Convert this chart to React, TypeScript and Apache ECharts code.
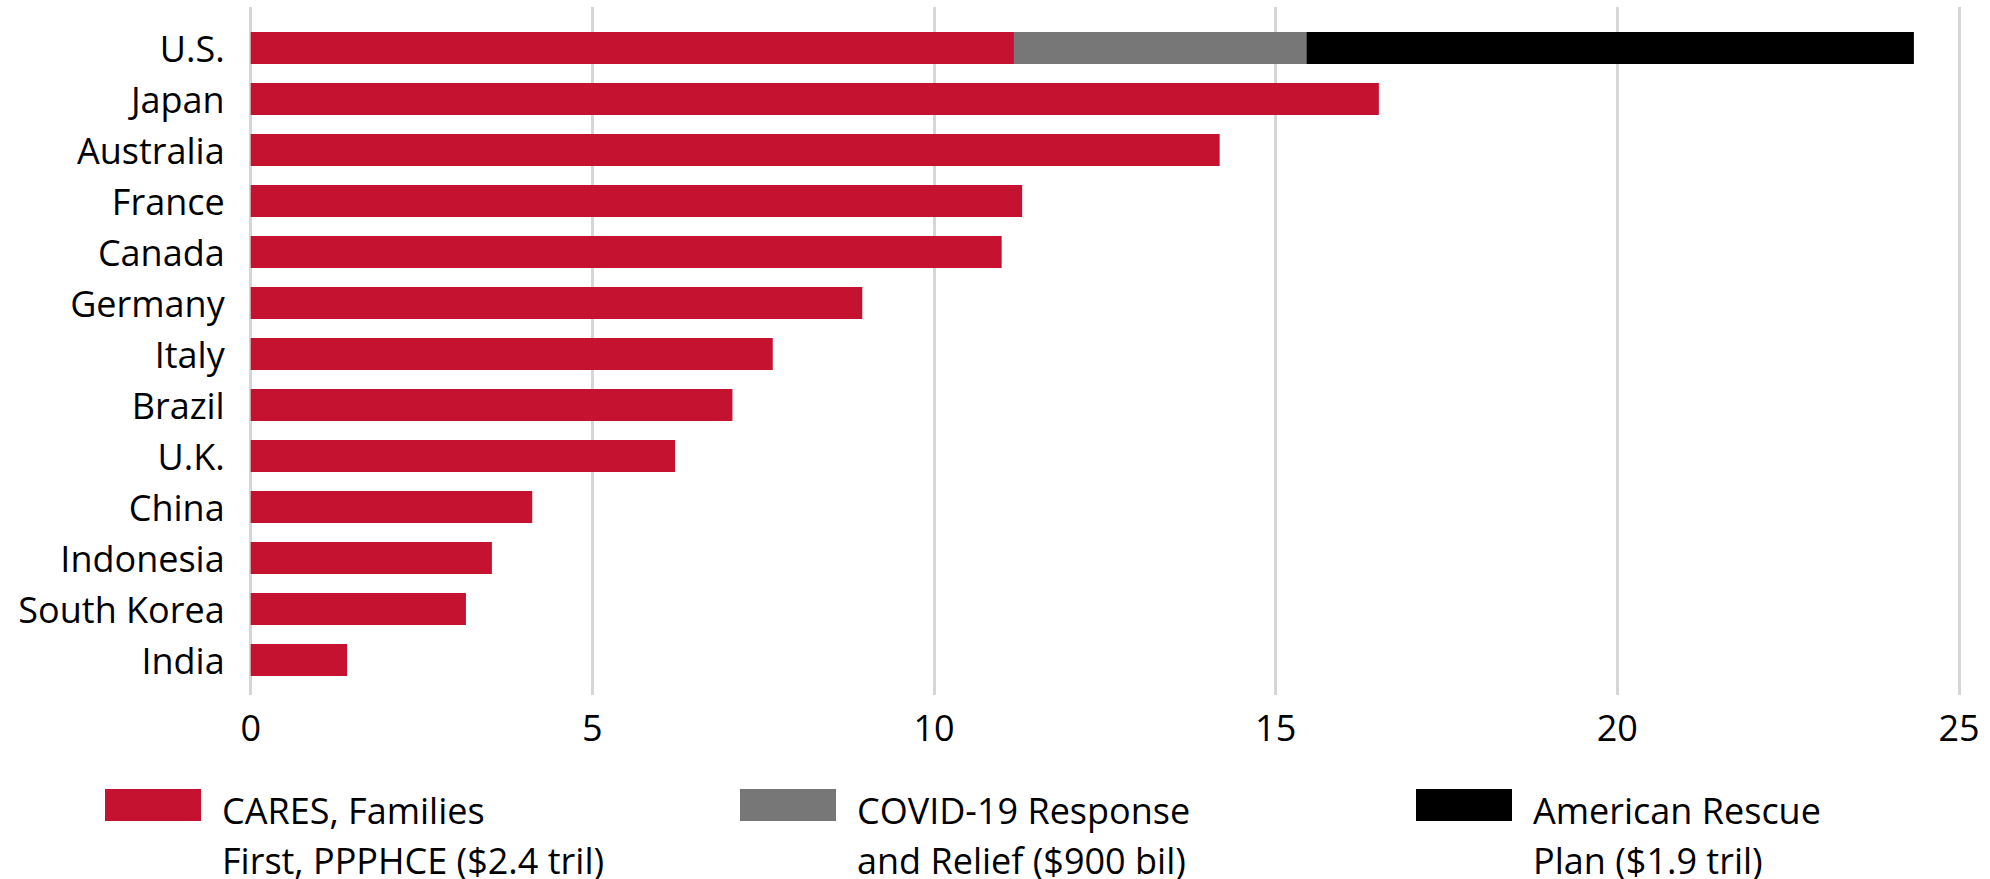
import React, { useEffect, useRef } from "react";
import * as echarts from "echarts";

const categories = [
  "U.S.", "Japan", "Australia", "France", "Canada", "Germany", "Italy",
  "Brazil", "U.K.", "China", "Indonesia", "South Korea", "India",
];
const caresValues = [11.17, 16.51, 14.18, 11.29, 10.99, 8.95, 7.64, 7.05, 6.21, 4.12, 3.53, 3.15, 1.41];
const covidValues = [4.28, null, null, null, null, null, null, null, null, null, null, null, null];
const arpValues = [8.89, null, null, null, null, null, null, null, null, null, null, null, null];
const seriesNames = [
  "CARES, Families First, PPPHCE ($2.4 tril)",
  "COVID-19 Response and Relief ($900 bil)",
  "American Rescue Plan ($1.9 tril)",
];
const legendLines = [
  ["CARES, Families", "First, PPPHCE ($2.4 tril)"],
  ["COVID-19 Response", "and Relief ($900 bil)"],
  ["American Rescue", "Plan ($1.9 tril)"],
];
const seriesColors = ["#C41230", "#777777", "#000000"];
const xMin = 0;
const xMax = 25;
const xInterval = 5;

const FONT = "'Open Sans', sans-serif";

export default function App() {
  const ref = useRef<HTMLDivElement>(null);
  useEffect(() => {
    if (!ref.current) return;
    const chart = echarts.init(ref.current, null, { renderer: "svg" });
    const values = [caresValues, covidValues, arpValues];
    const legendLefts = [105, 740, 1416];
    const txt = { fontFamily: FONT, fontSize: 36, color: "#000" };
    const option: any = {
      animation: false,
      backgroundColor: "#ffffff",
      grid: [
        { left: 250.7, right: 31, top: 7, bottom: 184 },
        { left: 250.7, right: 31, top: 22.5, height: 663 },
      ],
      xAxis: [
        {
          type: "value",
          gridIndex: 0,
          min: xMin,
          max: xMax,
          interval: xInterval,
          axisLine: { show: false },
          axisTick: { show: false },
          splitLine: { show: true, lineStyle: { color: "#d6d6d6", width: 3 } },
          axisLabel: { ...txt, margin: 14 },
        },
        { type: "value", gridIndex: 1, min: xMin, max: xMax, show: false },
      ],
      yAxis: [
        { type: "value", gridIndex: 0, show: false },
        {
          type: "category",
          gridIndex: 1,
          data: categories,
          inverse: true,
          axisLine: { show: false },
          axisTick: { show: false },
          splitLine: { show: false },
          axisLabel: { ...txt, margin: 26 },
        },
      ],
      legend: seriesNames.map((name, i) => ({
        data: [{ name, icon: "rect" }],
        left: legendLefts[i],
        top: 754,
        padding: 0,
        itemWidth: 96,
        itemHeight: 32,
        selectedMode: false,
        formatter: () =>
          "{g| }\n{a|" + legendLines[i][0] + "}\n{b|" + legendLines[i][1] + "}",
        textStyle: {
          ...txt,
          padding: [0, 0, 0, 16],
          rich: {
            g: { fontSize: 2, lineHeight: 46 },
            a: { ...txt, lineHeight: 64 },
            b: { ...txt, lineHeight: 36 },
          },
        },
      })),
      series: seriesNames.map((name, i) => ({
        name,
        type: "bar",
        stack: "total",
        xAxisIndex: 1,
        yAxisIndex: 1,
        data: values[i],
        barWidth: 32,
        itemStyle: { color: seriesColors[i] },
      })),
    };
    chart.setOption(option);
    return () => chart.dispose();
  }, []);
  return (
    <div
      ref={ref}
      style={{ position: "fixed", left: 0, top: 0, width: 1990, height: 879, background: "#fff" }}
    />
  );
}
